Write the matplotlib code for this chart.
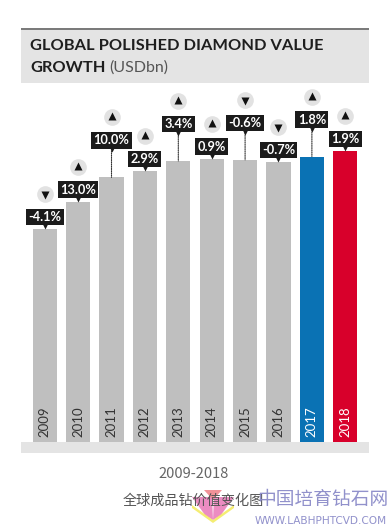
import matplotlib.pyplot as plt
from matplotlib.patches import Rectangle, Polygon
from matplotlib.transforms import ScaledTranslation

# data
years = ['2009', '2010', '2011', '2012', '2013', '2014', '2015', '2016', '2017', '2018']
value_usd_bn = [19.4, 21.9, 24.1, 24.7, 25.6, 25.8, 25.7, 25.5, 26.0, 26.5]
growth_labels = ['-4.1%', '13.0%', '10.0%', '2.9%', '3.4%', '0.9%', '-0.6%', '-0.7%', '1.8%', '1.9%']
growth_up = [False, True, True, True, True, True, False, False, True, True]

W, H = 389, 527
fig = plt.figure(figsize=(W / 100, H / 100), dpi=100)
fig.patch.set_facecolor('white')


def fx(x):
    return x / W


def fy(y):
    return 1 - y / H


def frect(x0, y0, x1, y1, color):
    fig.patches.append(Rectangle((fx(x0), fy(y1)), fx(x1) - fx(x0), fy(y0) - fy(y1),
                                 transform=fig.transFigure, facecolor=color,
                                 edgecolor='none', zorder=0))


# panel: title band, top rule, bottom strip
frect(21, 29, 369, 83, '#e4e4e4')
frect(21, 27.5, 369, 29.5, '#7b7b7b')
frect(21, 442, 369, 453, '#e4e4e4')

fig.text(fx(30), fy(46), 'GLOBAL POLISHED DIAMOND VALUE', family='Lato', weight='bold',
         fontsize=11.8, color='#1e1e1e', va='center', ha='left')
t_growth = fig.text(fx(30), fy(67.5), 'GROWTH', family='Lato', weight='bold',
                    fontsize=11.8, color='#1e1e1e', va='center', ha='left')
fig.canvas.draw()
bb = t_growth.get_window_extent()
fig.text((bb.x1 + 4) / W, fy(67.5), '(USDbn)', family='Lato', fontsize=11.5,
         color='#555555', va='center', ha='left')

# chart axes (bar bottom at y=442, top at band bottom)
ax = fig.add_axes([fx(21), fy(442), fx(369) - fx(21), fy(83) - fy(442)])
ax.set_xlim(-0.71, 9.71)
ax.set_ylim(0, 32.7)
ax.axis('off')


def off(dx, dy):
    return ax.transData + ScaledTranslation(dx / 100, dy / 100, fig.dpi_scale_trans)


colors = ['#bfbfbf'] * 8 + ['#0a72b4', '#d8002b']
raised = [False, False, True, False, True, False, True, False, True, False]
x = list(range(len(years)))
ax.bar(x, value_usd_bn, width=0.72, color=colors, zorder=2)

for i, yr in enumerate(years):
    v = value_usd_bn[i]
    tc = 'white' if i >= 8 else '#333333'
    ax.text(i, 0, yr, rotation=90, ha='center', va='bottom', family='Lato',
            fontsize=9.5, color=tc, transform=off(0, 5), zorder=3)

    up = 37 if raised[i] else 12
    # dotted leader
    if raised[i]:
        ax.annotate('', xy=(i, v), xytext=(0, up - 8), textcoords='offset pixels',
                    arrowprops=dict(arrowstyle='-', color='#333333', lw=0.8,
                                    linestyle=(0, (1, 1)), shrinkA=0, shrinkB=0),
                    zorder=3)
    # label box
    ax.text(i, v, growth_labels[i], ha='center', va='center', family='Lato',
            weight='bold', fontsize=9.2, color='white', transform=off(0, up),
            bbox=dict(boxstyle='square,pad=0.18', fc='#1b1b1b', ec='none'), zorder=5)
    ax.plot([i], [v], marker='v', markersize=4.5, color='#1b1b1b', mec='none',
            transform=off(0, up - 9), zorder=5, clip_on=False)
    # arrow badge
    ax.plot([i], [v], marker='o', markersize=12, color='#e2e2e2', mec='none',
            transform=off(0, up + 23), zorder=4, clip_on=False)
    ax.plot([i], [v], marker='^' if growth_up[i] else 'v', markersize=5.5,
            color='#111111', mec='none', transform=off(0, up + 23 + (1 if growth_up[i] else -1)),
            zorder=5, clip_on=False)

# caption below the panel
fig.text(fx(194), fy(474), '2009-2018', family='Noto Sans CJK SC', fontsize=10.5,
         color='#666666', ha='center', va='center')
fig.text(fx(193), fy(501), '全球成品钻价值变化图', family='Noto Sans CJK SC', fontsize=10.2,
         color='#555555', ha='center', va='center')

# watermark
for pts, c in [([(192, 497), (212, 497), (213, 520), (205, 515)], '#e978b8'),
               ([(234, 497), (214, 497), (213, 520), (221, 515)], '#e978b8'),
               ([(204, 490), (222, 490), (213, 500)], '#ef7f86'),
               ([(192, 505), (213, 520), (234, 505), (234, 508), (213, 523), (192, 508)], '#f3ea5a')]:
    fig.patches.append(Polygon([(fx(a), fy(b)) for a, b in pts], closed=True,
                               transform=fig.transFigure, facecolor=c, edgecolor='none',
                               alpha=0.85, zorder=1))
fig.text(fx(388), fy(500), '中国培育钻石网', family='Noto Sans CJK SC', fontsize=13.5,
         color='#8585c6', ha='right', va='center', alpha=0.9)
fig.text(fx(387), fy(521), 'WWW.LABHPHTCVD.COM', family='DejaVu Sans', fontsize=7.6,
         color='#8585c6', ha='right', va='center', alpha=0.9)

fig.savefig('out.png', dpi=100)
